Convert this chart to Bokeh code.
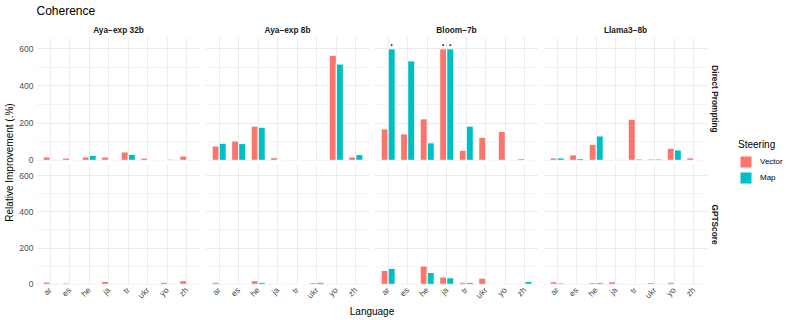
from math import pi

from bokeh.plotting import figure
from bokeh.layouts import row, column
from bokeh.models import (ColumnDataSource, FactorRange, Range1d, Label, Legend,
                          LegendItem, FixedTicker, CategoricalTicker, Grid, LinearAxis,
                          CategoricalAxis)
from bokeh.transform import dodge
from bokeh.embed import file_html
from bokeh.resources import INLINE

# ---------------- data ----------------
languages = ["ar", "es", "he", "ja", "tr", "ukr", "yo", "zh"]
models = ["Aya−exp 32b", "Aya−exp 8b", "Bloom−7b", "Llama3−8b"]
metrics = ["Direct Prompting", "GPTScore"]
series = ["Vector", "Map"]
y_ticks = [0, 200, 400, 600]
y_minor_ticks = [100, 300, 500]

# Direct Prompting
dp_vector_aya32 = [18, 12, 18, 18, 45, 12, 0, 23]
dp_map_aya32 = [5, 0, 27, 0, 32, 0, 6, 5]
dp_vector_aya8 = [77, 104, 184, 14, 4, 4, 565, 18]
dp_map_aya8 = [92, 90, 178, 0, 0, 3, 518, 31]
dp_vector_bloom = [169, 142, 223, 600, 54, 124, 155, 9]
dp_map_bloom = [600, 535, 94, 600, 184, 0, 0, 0]
dp_vector_llama = [13, 29, 86, 5, 221, 7, 65, 13]
dp_map_llama = [13, 9, 131, 5, 7, 7, 56, 0]

# GPTScore
gs_vector_aya32 = [13, 7, 4, 16, 4, 4, 11, 20]
gs_map_aya32 = [4, 2, 4, 5, 5, 2, 5, 4]
gs_vector_aya8 = [11, 5, 20, 4, 2, 9, 5, 5]
gs_map_aya8 = [5, 5, 11, 0, 0, 11, 5, 5]
gs_vector_bloom = [77, 4, 101, 40, 11, 34, 0, 4]
gs_map_bloom = [88, 4, 65, 36, 11, 0, 4, 16]
gs_vector_llama = [14, 4, 9, 14, 2, 9, 11, 4]
gs_map_llama = [7, 2, 9, 4, 2, 4, 0, 4]

# bars that were capped at the top of the scale (marked with a dot)
capped_dp_vector_bloom = ["ja"]
capped_dp_map_bloom = ["ar", "ja"]

panel_data = {
    ("Direct Prompting", "Aya−exp 32b"): (dp_vector_aya32, dp_map_aya32, [], []),
    ("Direct Prompting", "Aya−exp 8b"): (dp_vector_aya8, dp_map_aya8, [], []),
    ("Direct Prompting", "Bloom−7b"): (dp_vector_bloom, dp_map_bloom,
                                       capped_dp_vector_bloom, capped_dp_map_bloom),
    ("Direct Prompting", "Llama3−8b"): (dp_vector_llama, dp_map_llama, [], []),
    ("GPTScore", "Aya−exp 32b"): (gs_vector_aya32, gs_map_aya32, [], []),
    ("GPTScore", "Aya−exp 8b"): (gs_vector_aya8, gs_map_aya8, [], []),
    ("GPTScore", "Bloom−7b"): (gs_vector_bloom, gs_map_bloom, [], []),
    ("GPTScore", "Llama3−8b"): (gs_vector_llama, gs_map_llama, [], []),
}

# ---------------- style / layout ----------------
FONT = "Liberation Sans"
VEC_COLOR = "#F8766D"
MAP_COLOR = "#00BFC4"
GRID_MAJOR = "#EBEBEB"
GRID_MINOR = "#F3F3F3"
TICK_TXT = "#4D4D4D"
STRIP_TXT = "#1A1A1A"

YLAB_W = 16
FIRST_LEFT = 20          # room for y tick labels in first column
PANEL_W = 164
GAP = 5
RSTRIP_W = 31
RSTRIP_PAD = 16
TITLE_H = 21
STRIP_H = 16
PANEL_H = 123
ROW_GAP = 4
AXIS_B = 19
XLAB_H = 12
LEGEND_W = 54
TOTAL_H = TITLE_H + STRIP_H + PANEL_H + ROW_GAP + PANEL_H + AXIS_B + XLAB_H

Y0, Y1 = -1, 661
BAR_W = 0.36
OFF = 0.18
CAP_MARK = 20


def blank(width, height, left=0, right=0, top=0, bottom=0):
    f = figure(width=width, height=height, x_range=Range1d(0, 1), y_range=Range1d(0, 1),
               x_axis_type=None, y_axis_type=None, toolbar_location=None,
               output_backend="svg", min_border=0)
    f.min_border_left = left
    f.min_border_right = right
    f.min_border_top = top
    f.min_border_bottom = bottom
    f.outline_line_color = None
    f.background_fill_color = "white"
    f.border_fill_color = "white"
    return f


def make_panel(ri, ci):
    metric = metrics[ri]
    model = models[ci]
    vec, mp, cap_v, cap_m = panel_data[(metric, model)]

    left_b = FIRST_LEFT if ci == 0 else GAP
    bot_b = ROW_GAP if ri == 0 else AXIS_B

    p = figure(width=left_b + PANEL_W, height=PANEL_H + bot_b,
               x_range=FactorRange(factors=languages, range_padding=0.2,
                                   range_padding_units="absolute"),
               y_range=Range1d(Y0, Y1),
               x_axis_type=None, y_axis_type=None,
               toolbar_location=None, output_backend="svg", min_border=0)
    p.min_border_left = left_b
    p.min_border_bottom = bot_b
    p.outline_line_color = None
    p.background_fill_color = "white"
    p.border_fill_color = "white"

    p.add_layout(Grid(dimension=0, ticker=CategoricalTicker(),
                      grid_line_color=GRID_MAJOR, grid_line_width=1))
    p.add_layout(Grid(dimension=1, ticker=FixedTicker(ticks=y_ticks, minor_ticks=y_minor_ticks),
                      grid_line_color=GRID_MAJOR, grid_line_width=1,
                      minor_grid_line_color=GRID_MINOR, minor_grid_line_width=1))

    if ci == 0:
        ya = LinearAxis(ticker=FixedTicker(ticks=y_ticks),
                        axis_line_color=None, major_tick_line_color=None,
                        minor_tick_line_color=None, major_tick_in=0, major_tick_out=0,
                        minor_tick_in=0, minor_tick_out=0, major_label_standoff=3,
                        major_label_text_font=FONT, major_label_text_font_size="8.5px",
                        major_label_text_color=TICK_TXT)
        p.add_layout(ya, "left")
    if ri == 1:
        xa = CategoricalAxis(axis_line_color=None, major_tick_line_color=None,
                             minor_tick_line_color=None, major_tick_in=0, major_tick_out=0,
                             minor_tick_in=0, minor_tick_out=0, major_label_standoff=4,
                             major_label_orientation=pi / 4,
                             major_label_text_font=FONT, major_label_text_font_size="8.5px",
                             major_label_text_color=TICK_TXT)
        p.add_layout(xa, "below")

    src = ColumnDataSource(dict(lang=languages, vec=vec, mp=mp))
    p.vbar(x=dodge("lang", -OFF, range=p.x_range), top="vec", bottom=0, width=BAR_W,
           source=src, fill_color=VEC_COLOR, line_color="white", line_width=1)
    p.vbar(x=dodge("lang", OFF, range=p.x_range), top="mp", bottom=0, width=BAR_W,
           source=src, fill_color=MAP_COLOR, line_color="white", line_width=1)

    for caps, vals, off in ((cap_v, vec, -OFF), (cap_m, mp, OFF)):
        if caps:
            ys = [vals[languages.index(l)] + CAP_MARK for l in caps]
            csrc = ColumnDataSource(dict(lang=caps, y=ys))
            p.scatter(x=dodge("lang", off, range=p.x_range), y="y", source=csrc,
                      size=1.2, color="#333333")
    return p


panels = [[make_panel(ri, ci) for ci in range(4)] for ri in range(2)]
mid_w = sum(f.width for f in panels[0])

# title
title_fig = blank(mid_w, TITLE_H, left=FIRST_LEFT)
title_fig.add_layout(Label(x=0, y=0.5, text="Coherence", text_align="left",
                           text_baseline="middle", text_font=FONT, text_font_size="12px",
                           text_color="black"))

# facet strips (top)
strips = []
for ci, model in enumerate(models):
    s = blank(panels[0][ci].width, STRIP_H, left=FIRST_LEFT if ci == 0 else GAP)
    s.add_layout(Label(x=0.5, y=0.5, text=model, text_align="center",
                       text_baseline="middle", text_font=FONT, text_font_size="8.3px",
                       text_font_style="bold", text_color=STRIP_TXT))
    strips.append(s)

# facet strips (right)
rstrips = []
for ri, metric in enumerate(metrics):
    bot_b = ROW_GAP if ri == 0 else AXIS_B
    s = blank(RSTRIP_W, PANEL_H + bot_b, right=RSTRIP_PAD, bottom=bot_b)
    s.add_layout(Label(x=0.5, y=0.5, text=metric, angle=-pi / 2, text_align="center",
                       text_baseline="middle", text_font=FONT, text_font_size="8.3px",
                       text_font_style="bold", text_color=STRIP_TXT))
    rstrips.append(s)

# y-axis title
ylab = blank(YLAB_W, TOTAL_H, top=TITLE_H + STRIP_H, bottom=AXIS_B + XLAB_H)
ylab.add_layout(Label(x=0.56, y=0.5, text="Relative Improvement (.%)", angle=pi / 2,
                      text_align="center", text_baseline="middle", text_font=FONT,
                      text_font_size="10px", text_color="black"))

# x-axis title
xlab = blank(mid_w, XLAB_H, left=FIRST_LEFT)
xlab.add_layout(Label(x=0.5, y=0.55, text="Language", text_align="center",
                      text_baseline="middle", text_font=FONT, text_font_size="10px",
                      text_color="black"))

# legend
leg = blank(LEGEND_W, TOTAL_H, bottom=4)
r_vec = leg.vbar(x=[5], top=[5], width=0.5, fill_color=VEC_COLOR, line_color="white",
                 line_width=1)
r_map = leg.vbar(x=[5], top=[5], width=0.5, fill_color=MAP_COLOR, line_color="white",
                 line_width=1)
legend = Legend(items=[LegendItem(label=series[0], renderers=[r_vec]),
                       LegendItem(label=series[1], renderers=[r_map])],
                title="Steering", location="center_left",
                title_text_font=FONT, title_text_font_size="10px", title_text_color="black",
                title_text_font_style="normal",
                title_standoff=4, label_text_font=FONT, label_text_font_size="8px",
                label_text_color="black", label_standoff=7, glyph_width=15,
                glyph_height=15, label_height=15, spacing=1, padding=0, margin=0,
                border_line_color=None, background_fill_alpha=0)
leg.add_layout(legend)

middle = column(title_fig, row(*strips), row(*panels[0], rstrips[0]),
                row(*panels[1], rstrips[1]), xlab)
layout = row(ylab, middle, leg)

open("out.html", "w").write(file_html(layout, INLINE))
